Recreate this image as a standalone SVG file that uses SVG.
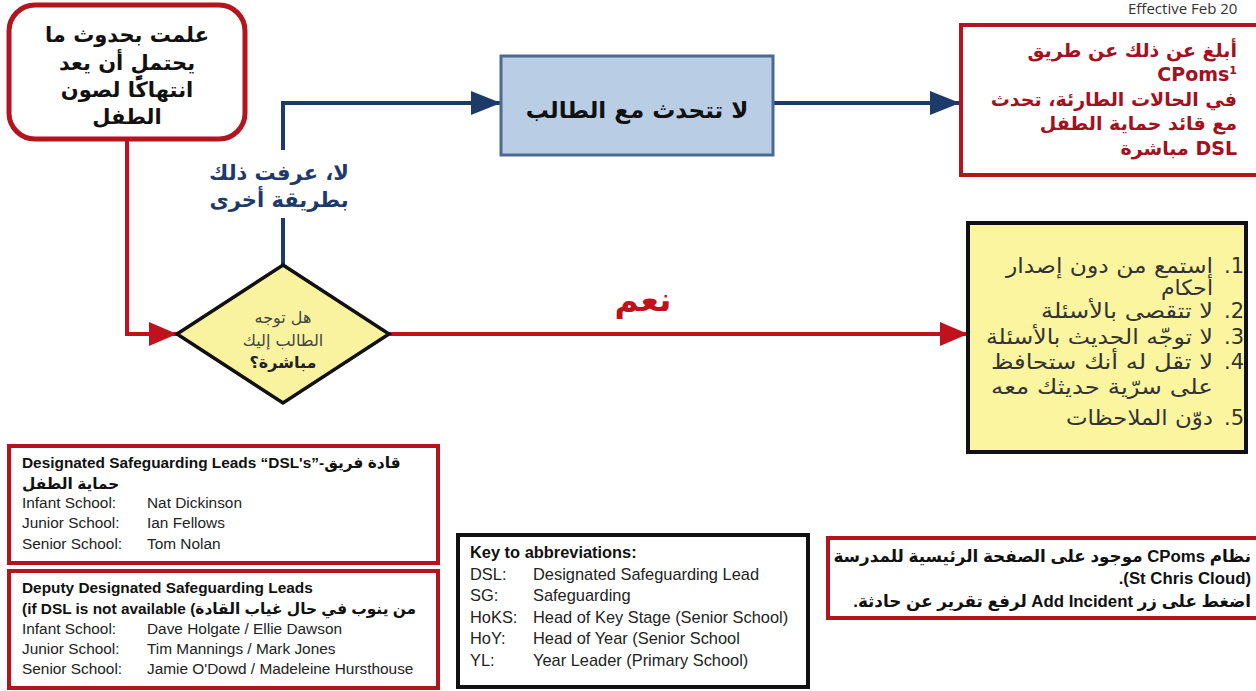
<svg xmlns="http://www.w3.org/2000/svg" width="1256" height="691" viewBox="0 0 1256 691">
<style>
.ar{font-family:"DejaVu Sans","Noto Sans",sans-serif}
.en{font-family:"Liberation Sans","DejaVu Sans",sans-serif;font-size:15.4px;fill:#222}
.enb{font-family:"Liberation Sans","DejaVu Sans",sans-serif;font-size:15.4px;font-weight:bold;fill:#111}
.key .en,.key .enb{font-size:16.4px}
.redbox{fill:#fff;stroke:#b3141d;stroke-width:4}
.red{stroke:#c0121c;stroke-width:4;fill:none}
.blue{stroke:#1e3a68;stroke-width:4;fill:none}
.rtl{direction:rtl;unicode-bidi:embed}
</style>
<defs>
<marker id="ahr" markerUnits="userSpaceOnUse" markerWidth="30" markerHeight="26" refX="28" refY="12" orient="auto"><path d="M0,0 L28,12 L0,24 z" fill="#c0121c"/></marker>
<marker id="ahb" markerUnits="userSpaceOnUse" markerWidth="32" markerHeight="26" refX="30" refY="12" orient="auto"><path d="M0,0 L30,12 L0,24 z" fill="#1e3a68"/></marker>
</defs>
<rect width="1256" height="691" fill="#fff"/>
<text x="1128" y="14" style="font-family:'Open Sans','Liberation Sans',sans-serif;font-size:15px;fill:#333">Effective  Feb 20</text>

<g id="connectors">
<path class="red" d="M127,139 V334 H177" marker-end="url(#ahr)"/>
<path class="red" d="M389,334 H968" marker-end="url(#ahr)"/>
<path class="blue" d="M283,265 V218"/>
<path class="blue" d="M283,150 V103 H501" marker-end="url(#ahb)"/>
<path class="blue" d="M773,103 H960" marker-end="url(#ahb)"/>
<text x="279" y="180" text-anchor="middle" class="ar" style="font-size:21px;font-weight:bold;fill:#1e3a68">لا، عرفت ذلك</text>
<text x="279" y="207" text-anchor="middle" class="ar" style="font-size:21px;font-weight:bold;fill:#1e3a68">بطريقة أخرى</text>
<text x="643" y="311" text-anchor="middle" class="ar" style="font-size:33px;font-weight:bold;fill:#c0121c">نعم</text>
</g>

<g id="node-start">
<rect x="9" y="5" width="236" height="134" rx="26" fill="#fff" stroke="#b3141d" stroke-width="5"/>
<g class="ar" style="font-size:21px;font-weight:bold;fill:#111" text-anchor="middle">
<text x="127" y="42">علمت بحدوث ما</text>
<text x="127" y="70">يحتملٍ أن يعد</text>
<text x="127" y="97">انتهاكًا لصون</text>
<text x="127" y="124">الطفل</text>
</g>
</g>

<g id="node-decision">
<polygon points="283,265 389,334 283,403 177,334" fill="#f9f3a0" stroke="#111" stroke-width="3.5"/>
<g class="ar" style="font-size:16px;fill:#444" text-anchor="middle">
<text x="283" y="323">هل توجه</text>
<text x="283" y="346">الطالب إليك</text>
<text x="283" y="368" style="font-weight:bold;fill:#222">مباشرة؟</text>
</g>
</g>

<g id="node-dont-talk">
<rect x="501" y="56" width="272" height="99" fill="#b9cde5" stroke="#4a6a92" stroke-width="3"/>
<text x="637" y="118" text-anchor="middle" class="ar" style="font-size:23px;font-weight:bold;fill:#111">لا تتحدث مع الطالب</text>
</g>

<g id="node-report">
<rect x="961" y="25" width="305" height="150" class="redbox"/>
<g class="ar" style="font-size:19px;font-weight:bold;fill:#a3101e">
<text x="1237" y="57" text-anchor="end">أبلغ عن ذلك عن طريق</text>
<text x="1237" y="81" text-anchor="end">CPoms<tspan style="font-size:11px" dy="-7">1</tspan></text>
<text x="1237" y="106" text-anchor="end">في الحالات الطارئة، تحدث</text>
<text x="1237" y="130" text-anchor="end">مع قائد حماية الطفل</text>
<text x="1237" y="155" text-anchor="end">مباشرة  DSL</text>
</g>
</g>

<g id="node-listen">
<rect x="968" y="223" width="278" height="229" fill="#fcf59f" stroke="#111" stroke-width="4"/>
<g class="ar" style="font-size:21px;fill:#333">
<text x="1213" y="273" text-anchor="end" textLength="207" lengthAdjust="spacingAndGlyphs">استمع من دون إصدار</text>
<text x="1213" y="295" text-anchor="end" textLength="52" lengthAdjust="spacingAndGlyphs">أحكام</text>
<text x="1213" y="318" text-anchor="end" textLength="172" lengthAdjust="spacingAndGlyphs">لا تتقصى بالأسئلة</text>
<text x="1213" y="344" text-anchor="end" textLength="227" lengthAdjust="spacingAndGlyphs">لا توجّه الحديث بالأسئلة</text>
<text x="1213" y="369" text-anchor="end" textLength="222" lengthAdjust="spacingAndGlyphs">لا تقل له أنك ستحافظ</text>
<text x="1213" y="394" text-anchor="end" textLength="222" lengthAdjust="spacingAndGlyphs">على سرّية حديثك معه</text>
<text x="1213" y="425" text-anchor="end" textLength="147" lengthAdjust="spacingAndGlyphs">دوّن الملاحظات</text>
<text x="1244" y="273" text-anchor="end">.1</text>
<text x="1244" y="318" text-anchor="end">.2</text>
<text x="1244" y="344" text-anchor="end">.3</text>
<text x="1244" y="369" text-anchor="end">.4</text>
<text x="1244" y="425" text-anchor="end">.5</text>
</g>
</g>

<g id="node-dsl">
<rect x="9" y="446" width="429" height="117" class="redbox"/>
<text x="22" y="468" class="enb">Designated Safeguarding Leads “DSL's”-قادة فريق</text>
<text x="22" y="489" class="enb">حماية الطفل</text>
<text x="22" y="508" class="en">Infant School:</text><text x="147" y="508" class="en">Nat Dickinson</text>
<text x="22" y="528" class="en">Junior School:</text><text x="147" y="528" class="en">Ian Fellows</text>
<text x="22" y="549" class="en">Senior School:</text><text x="147" y="549" class="en">Tom Nolan</text>
</g>

<g id="node-deputy">
<rect x="9" y="571" width="429" height="117" class="redbox"/>
<text x="22" y="593" class="enb">Deputy Designated Safeguarding Leads</text>
<text x="22" y="614" class="enb">(if DSL is not available (من ينوب في حال غياب القادة</text>
<text x="22" y="634" class="en">Infant School:</text><text x="147" y="634" class="en">Dave Holgate / Ellie Dawson</text>
<text x="22" y="654" class="en">Junior School:</text><text x="147" y="654" class="en">Tim Mannings / Mark Jones</text>
<text x="22" y="674" class="en">Senior School:</text><text x="147" y="674" class="en">Jamie O'Dowd / Madeleine Hursthouse</text>
</g>

<g id="node-key" class="key">
<rect x="458" y="535" width="350" height="152" fill="#fff" stroke="#111" stroke-width="4"/>
<text x="470" y="558" class="enb">Key to abbreviations:</text>
<text x="470" y="580" class="en">DSL:</text><text x="533" y="580" class="en">Designated Safeguarding Lead</text>
<text x="470" y="601" class="en">SG:</text><text x="533" y="601" class="en">Safeguarding</text>
<text x="470" y="623" class="en">HoKS:</text><text x="533" y="623" class="en">Head of Key Stage (Senior School)</text>
<text x="470" y="644" class="en">HoY:</text><text x="533" y="644" class="en">Head of Year (Senior School</text>
<text x="470" y="666" class="en">YL:</text><text x="533" y="666" class="en">Year Leader (Primary School)</text>
</g>

<g id="node-cpoms">
<rect x="828" y="538" width="445" height="80" class="redbox"/>
<g class="enb" style="font-size:16.8px">
<text x="1251" y="562" class="rtl" text-anchor="start">نظام CPoms موجود على الصفحة الرئيسية للمدرسة</text>
<text x="1251" y="584" text-anchor="end">.(St Chris Cloud)</text>
<text x="1251" y="607" class="rtl" text-anchor="start">اضغط على زر Add Incident لرفع تقرير عن حادثة.</text>
</g>
</g>
</svg>
